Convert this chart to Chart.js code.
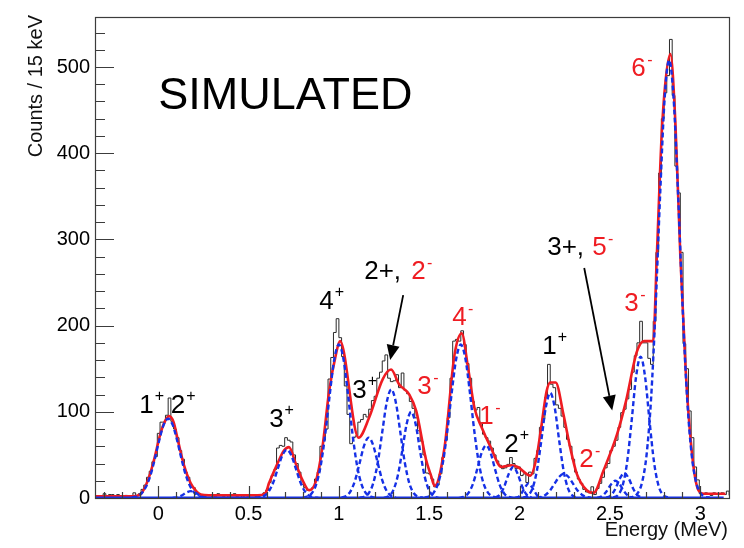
<!DOCTYPE html>
<html>
<head>
<meta charset="utf-8">
<script src="https://cdn.jsdelivr.net/npm/chart.js@4/dist/chart.umd.min.js"></script>
<style>
  html, body { margin: 0; padding: 0; background: #ffffff; }
  #wrap { width: 744px; height: 548px; }
</style>
</head>
<body>
<div id="wrap"><canvas id="spectrum" width="744" height="548"></canvas></div>
<script>
// ---- Histogram: counts per 15 keV bin, first bin starts at -0.35 MeV ----
const binStart = -0.35;
const binWidth = 0.015;
const counts = [
  1, 0, 2, 5, 2, 4, 4, 1, 4, 2,
  1, 3, 2, 0, 6, 3, 5, 10, 15, 24,
  31, 42, 48, 75, 88, 88, 96, 116, 89, 80,
  70, 55, 45, 30, 24, 14, 12, 6, 4, 3,
  2, 4, 3, 1, 2, 5, 3, 2, 4, 1,
  3, 5, 2, 4, 1, 3, 2, 4, 3, 2,
  2, 4, 6, 9, 18, 26, 33, 58, 61, 60,
  70, 67, 65, 50, 40, 30, 16, 12, 9, 10,
  12, 22, 30, 60, 67, 80, 138, 163, 192, 208,
  186, 164, 130, 97, 63, 70, 72, 88, 91, 97,
  94, 103, 113, 118, 139, 146, 159, 166, 139, 135,
  136, 143, 128, 145, 125, 121, 112, 104, 93, 78,
  66, 50, 29, 28, 22, 13, 15, 28, 47, 67,
  93, 139, 182, 184, 182, 194, 178, 156, 139, 112,
  102, 105, 87, 74, 70, 66, 58, 50, 43, 38,
  34, 35, 39, 47, 40, 34, 36, 26, 28, 18,
  30, 28, 46, 55, 82, 92, 117, 155, 132, 128,
  108, 104, 95, 82, 68, 60, 45, 30, 22, 17,
  10, 7, 6, 13, 4, 11, 17, 24, 35, 40,
  55, 60, 67, 82, 99, 103, 115, 126, 146, 165,
  180, 205, 180, 180, 162, 155, 205, 285, 377, 440,
  470, 490, 532, 467, 385, 354, 285, 179, 150, 101,
  70, 36, 21, 5, 4, 6, 5, 3, 6, 4,
  5, 6, 4, 8, 3
];

// ---- Total fit (red) ----
const fitEnergy = [
  -0.35, -0.25, -0.15, -0.10, -0.07, -0.045, -0.02, 0.01, 0.035, 0.06,
  0.085, 0.11, 0.14, 0.18, 0.21, 0.235, 0.28, 0.40, 0.55, 0.594,
  0.613, 0.66, 0.696, 0.724, 0.761, 0.798, 0.835, 0.872, 0.909, 0.946,
  0.983, 1.006, 1.109, 1.167, 1.243, 1.289, 1.333, 1.39, 1.428, 1.483,
  1.51, 1.53, 1.585, 1.64, 1.68, 1.715, 1.75, 1.79, 1.84, 1.90,
  1.955, 1.99, 2.06, 2.094, 2.12, 2.15, 2.17, 2.20, 2.243, 2.28,
  2.317, 2.372, 2.41, 2.465, 2.54, 2.59, 2.65, 2.69, 2.74, 2.76,
  2.79, 2.835, 2.863, 2.89, 2.92, 2.955, 2.99, 3.02, 3.14
];
const fitCounts = [
  2, 2, 2, 4, 14, 28, 47, 73, 88, 95,
  88, 66, 40, 17, 8, 4, 3, 3, 3, 6,
  17, 40, 55, 59, 40, 21, 9, 19, 59, 124,
  166, 182, 70, 93, 138, 149, 132, 120, 101, 44,
  26, 14, 59, 166, 191, 151, 105, 82, 59, 36,
  38, 36, 26, 47, 82, 124, 134, 134, 97, 59,
  28, 9, 6, 32, 74, 113, 170, 182, 182, 281,
  434, 515, 434, 281, 147, 51, 9, 5, 5
];

// ---- Individual peak components (blue dashed), sampled every 25 keV around each centroid ----
const sampleStep = 0.025;
const peakCentroids = [0.055, 0.18, 0.712, 1.0, 1.165, 1.29, 1.40, 1.675, 1.815, 1.965, 2.05, 2.17, 2.245, 2.53, 2.58, 2.67, 2.828];
const p1plus   = [0.5, 1.7, 4.9, 12.1, 25.0, 44.3, 66.5, 84.8, 92, 84.8, 66.5, 44.3, 25.0, 12.1, 4.9, 1.7, 0.5];
const p2plusA  = [0.1, 0.8, 2.9, 6.2, 8, 6.2, 2.9, 0.8, 0.1];
const p3plusA  = [0.1, 0.6, 2.5, 7.6, 18.2, 34.0, 49.4, 56, 49.4, 34.0, 18.2, 7.6, 2.5, 0.6, 0.1];
const p4plus   = [0.4, 1.6, 5.5, 16.0, 38.3, 74.9, 121.0, 161.6, 178, 161.6, 121.0, 74.9, 38.3, 16.0, 5.5, 1.6, 0.4];
const p3plusB  = [0.5, 2.4, 8.0, 20.7, 40.7, 61.1, 70, 61.1, 40.7, 20.7, 8.0, 2.4, 0.5];
const p2pm     = [0.3, 1.4, 5.5, 17.0, 40.9, 76.4, 111.2, 126, 111.2, 76.4, 40.9, 17.0, 5.5, 1.4, 0.3];
const p3minusA = [0.4, 2.1, 8.5, 24.9, 53.9, 85.7, 100, 85.7, 53.9, 24.9, 8.5, 2.1, 0.4];
const p4minus  = [0.5, 1.9, 6.3, 17.4, 40.2, 77.1, 122.8, 162.2, 178, 162.2, 122.8, 77.1, 40.2, 17.4, 6.3, 1.9, 0.5];
const p1minus  = [0.2, 1.3, 5.2, 15.2, 32.9, 52.3, 61, 52.3, 32.9, 15.2, 5.2, 1.3, 0.2];
const p2plusB  = [0.6, 3.6, 13.0, 27.9, 36, 27.9, 13.0, 3.6, 0.6];
const pSmallA  = [0.2, 2.3, 10.3, 17, 10.3, 2.3, 0.2];
const p1plusB  = [0.5, 2.6, 10.3, 30.4, 65.8, 104.6, 122, 104.6, 65.8, 30.4, 10.3, 2.6, 0.5];
const pSmallB  = [0.3, 1.2, 3.8, 9.1, 17.0, 24.7, 28, 24.7, 17.0, 9.1, 3.8, 1.2, 0.3];
const p2minusA = [0.3, 2.0, 7.2, 15.5, 20, 15.5, 7.2, 2.0, 0.3];
const p2minusB = [0.5, 2.9, 10.4, 22.5, 29, 22.5, 10.4, 2.9, 0.5];
const p3minusB = [0.6, 3.5, 13.9, 40.8, 88.4, 140.5, 164, 140.5, 88.4, 40.8, 13.9, 3.5, 0.6];
const p6minus  = [0.3, 1.3, 5.4, 17.9, 49.8, 114.8, 220.0, 350.5, 462.8, 508, 462.8, 350.5, 220.0, 114.8, 49.8, 17.9, 5.4, 1.3, 0.3];
const peakProfiles = [p1plus, p2plusA, p3plusA, p4plus, p3plusB, p2pm, p3minusA, p4minus, p1minus,
                      p2plusB, pSmallA, p1plusB, pSmallB, p2minusA, p2minusB, p3minusB, p6minus];
const componentRange = [-0.35, 3.13];

// ---- Axes ----
const xRange = [-0.35, 3.165];
const yRange = [0, 558];
const xTickValues = [0, 0.5, 1, 1.5, 2, 2.5, 3];
const yTickValues = [0, 100, 200, 300, 400, 500];

// ---- Spin-parity labels (anchored at energy / counts of their baseline start) ----
const labelMain  = ['1', '2', '3', '4', '2+,', '2', '3', '3', '4', '1', '2', '1', '3+,', '5', '2', '3', '6'];
const labelSup   = ['+', '+', '+', '+', '',    '-', '+', '-', '-', '-', '+', '+', '',    '-', '-', '-', '-'];
const labelRed   = [false, false, false, false, false, true, false, true, true, true, false, false, false, true, true, true, true];
const labelE     = [-0.105, 0.069, 0.614, 0.891, 1.140, 1.400, 1.074, 1.434, 1.627, 1.777, 1.915, 2.126, 2.153, 2.402, 2.330, 2.580, 2.618];
const labelC     = [99.1, 99.1, 81.8, 219.6, 254.0, 254.0, 116.3, 120.9, 201.2, 86.4, 53.1, 166.8, 281.6, 281.6, 35.9, 216.4, 489.3];

// ---- Arrows pointing at the unresolved doublets ----
const arrowFromE = [1.356, 2.358];
const arrowFromC = [235.4, 266.8];
const arrowToE   = [1.284, 2.513];
const arrowToC   = [160.0, 101.4];

const titleText = 'SIMULATED';
const titleAt = [0.0, 451.4];
const xTitle = 'Energy (MeV)';
const yTitle = 'Counts / 15 keV';

const FONT = '"Liberation Sans", Arial, Helvetica, sans-serif';
const RED = '#ef1c22';
const BLUE = '#1530e6';
const AXIS = '#3c3c3c';

// Histogram outline as step points on the bin edges
const histPoints = counts.map((c, i) => ({ x: binStart + i * binWidth, y: c }));
histPoints.push({ x: binStart + counts.length * binWidth, y: counts[counts.length - 1] });

const fitPoints = fitEnergy.map((e, i) => ({ x: e, y: fitCounts[i] }));

const componentSets = peakProfiles.map((vals, n) => {
  const half = (vals.length - 1) / 2;
  return {
    data: vals.map((v, j) => ({ x: peakCentroids[n] + (j - half) * sampleStep, y: v })),
    borderColor: BLUE, borderWidth: 2.4, borderDash: [5, 3],
    pointRadius: 0, fill: false, cubicInterpolationMode: 'monotone', order: 1
  };
});

const decorations = {
  id: 'decorations',
  afterDatasetsDraw(chart) {
    const ctx = chart.ctx;
    const sx = chart.scales.x, sy = chart.scales.y;
    const px = v => sx.getPixelForValue(v);
    const py = v => sy.getPixelForValue(v);
    const a = chart.chartArea;
    ctx.save();

    // frame
    ctx.strokeStyle = AXIS;
    ctx.lineWidth = 1.2;
    ctx.strokeRect(Math.round(a.left) + 0.5, Math.round(a.top) + 0.5,
                   Math.round(a.right - a.left) - 1, Math.round(a.bottom - a.top));

    // ticks drawn inwards
    ctx.beginPath();
    for (let k = -3; k <= 31; k++) {
      const x = Math.round(px(k / 10)) + 0.5;
      const len = (k % 5 === 0) ? 12 : 6;
      ctx.moveTo(x, a.bottom);
      ctx.lineTo(x, a.bottom - len);
    }
    for (let k = 0; k <= 27; k++) {
      const y = Math.round(py(k * 20)) + 0.5;
      const len = (k % 5 === 0) ? 19 : 10;
      ctx.moveTo(a.left, y);
      ctx.lineTo(a.left + len, y);
    }
    ctx.stroke();

    // axis titles
    ctx.fillStyle = '#111';
    ctx.font = '20px ' + FONT;
    ctx.textAlign = 'right';
    ctx.textBaseline = 'alphabetic';
    ctx.fillText(xTitle, a.right - 2, 536);
    ctx.save();
    ctx.translate(42, 15);
    ctx.rotate(-Math.PI / 2);
    ctx.fillText(yTitle, 0, 0);
    ctx.restore();

    // big title
    ctx.textAlign = 'left';
    ctx.font = '45px ' + FONT;
    ctx.fillStyle = '#000';
    ctx.fillText(titleText, px(titleAt[0]), py(titleAt[1]));

    // spin-parity labels
    labelMain.forEach((txt, i) => {
      const x = px(labelE[i]), y = py(labelC[i]);
      ctx.fillStyle = labelRed[i] ? RED : '#000';
      ctx.font = '26px ' + FONT;
      ctx.fillText(txt, x, y);
      const s = labelSup[i];
      if (s) {
        const w = ctx.measureText(txt).width;
        ctx.font = '16px ' + FONT;
        ctx.fillText(s, x + w + (s === '+' ? 1 : 1.5), y - (s === '+' ? 12 : 11));
      }
    });

    // arrows
    ctx.strokeStyle = '#000';
    ctx.fillStyle = '#000';
    ctx.lineWidth = 1.8;
    arrowFromE.forEach((e, i) => {
      const x0 = px(e), y0 = py(arrowFromC[i]);
      const x1 = px(arrowToE[i]), y1 = py(arrowToC[i]);
      const ang = Math.atan2(y1 - y0, x1 - x0);
      const headLen = 15, headHalf = 6.5;
      const bx = x1 - headLen * Math.cos(ang), by = y1 - headLen * Math.sin(ang);
      ctx.beginPath();
      ctx.moveTo(x0, y0);
      ctx.lineTo(bx, by);
      ctx.stroke();
      ctx.beginPath();
      ctx.moveTo(x1, y1);
      ctx.lineTo(bx + headHalf * Math.sin(ang), by - headHalf * Math.cos(ang));
      ctx.lineTo(bx - headHalf * Math.sin(ang), by + headHalf * Math.cos(ang));
      ctx.closePath();
      ctx.fill();
    });

    ctx.restore();
  }
};

Chart.defaults.font.family = FONT;

new Chart(document.getElementById('spectrum'), {
  type: 'line',
  data: {
    datasets: [
      {
        data: histPoints, stepped: 'before', borderColor: '#2a2a2a', borderWidth: 1,
        pointRadius: 0, fill: false, order: 3
      },
      {
        data: fitPoints, borderColor: RED, borderWidth: 2.6, pointRadius: 0,
        fill: false, cubicInterpolationMode: 'monotone', order: 2
      },
      ...componentSets,
      {
        data: componentRange.map(e => ({ x: e, y: 0 })), borderColor: BLUE, borderWidth: 3,
        pointRadius: 0, fill: false, order: 1
      }
    ]
  },
  options: {
    responsive: false,
    animation: false,
    devicePixelRatio: 1,
    layout: { padding: { top: 12, right: 14, left: 0, bottom: 0 } },
    plugins: { legend: { display: false }, tooltip: { enabled: false }, title: { display: false } },
    scales: {
      x: {
        type: 'linear', min: xRange[0], max: xRange[1],
        afterFit: s => { s.height = 50; },
        afterBuildTicks: s => { s.ticks = xTickValues.map(v => ({ value: v })); },
        grid: { display: false, drawTicks: false },
        border: { display: false },
        ticks: { font: { size: 20, family: FONT }, color: '#000', padding: 4, maxRotation: 0, autoSkip: false,
                 callback: v => String(v) }
      },
      y: {
        type: 'linear', min: yRange[0], max: yRange[1],
        afterFit: s => { s.width = 95; },
        afterBuildTicks: s => { s.ticks = yTickValues.map(v => ({ value: v })); },
        grid: { display: false, drawTicks: false },
        border: { display: false },
        ticks: { font: { size: 20, family: FONT }, color: '#000', padding: 5, autoSkip: false,
                 callback: v => String(v) }
      }
    }
  },
  plugins: [decorations]
});
</script>
</body>
</html>
